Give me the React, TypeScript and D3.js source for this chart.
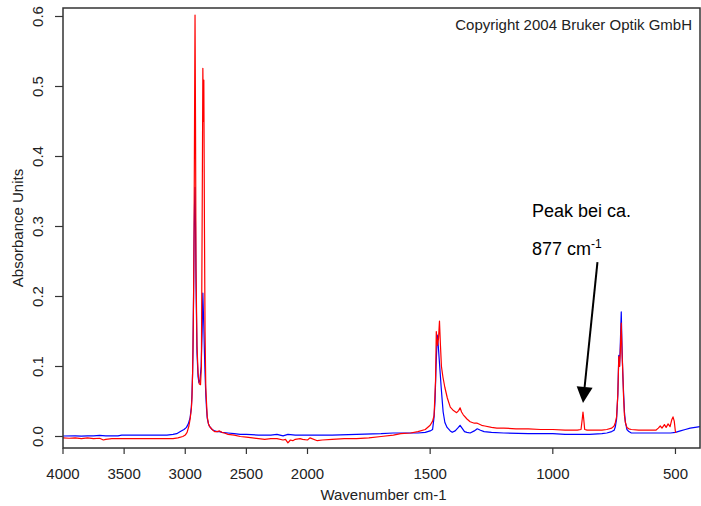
import * as d3 from 'd3';

// wavenumber (cm-1) / absorbance pairs
const blueWn = [
  4000, 3900, 3850, 3800, 3750, 3700, 3650, 3600, 3550, 3520, 3500, 3300, 3150, 3100, 3070, 3040,
  3010, 2990, 2975, 2960, 2950, 2945, 2940, 2937, 2932, 2928, 2924, 2920, 2916, 2912, 2904, 2895,
  2888, 2880, 2870, 2862, 2856, 2852, 2848, 2843, 2838, 2832, 2826, 2820, 2810, 2800, 2780, 2760,
  2740, 2720, 2700, 2650, 2600, 2550, 2500, 2400, 2300, 2250, 2200, 2160, 2100, 2000, 1900, 1800,
  1700, 1650, 1600, 1550, 1520, 1500, 1490, 1484, 1480, 1476, 1471, 1467, 1463, 1459, 1455, 1451,
  1447, 1440, 1431, 1418, 1410, 1398, 1385, 1378, 1370, 1360, 1350, 1337, 1320, 1308, 1295, 1280,
  1250, 1200, 1100, 1000, 950, 900, 880, 850, 800, 780, 760, 750, 745, 740, 735, 731,
  728, 725, 721, 718, 715, 712, 708, 704, 698, 690, 680, 650, 600, 550, 520, 500,
  480, 460, 440, 420, 400,
];
const blueAbs = [
  0.0007, 0.001, 0.0005, 0.001, 0.001, 0.0015, 0.001, 0.001, 0.001, 0.002, 0.002, 0.002, 0.002, 0.003, 0.004, 0.007,
  0.01, 0.013, 0.018, 0.027, 0.042, 0.06, 0.09, 0.12, 0.2, 0.28, 0.33, 0.356, 0.3, 0.22, 0.12, 0.085,
  0.077, 0.08, 0.1, 0.15, 0.205, 0.18, 0.157, 0.12, 0.09, 0.06, 0.04, 0.026, 0.018, 0.014, 0.01, 0.008,
  0.007, 0.007, 0.006, 0.005, 0.004, 0.003, 0.003, 0.002, 0.002, 0.003, 0.001, 0.003, 0.002, 0.002, 0.002, 0.003,
  0.004, 0.005, 0.005, 0.005, 0.006, 0.008, 0.01, 0.028, 0.052, 0.1, 0.145, 0.13, 0.11, 0.09, 0.07, 0.052,
  0.035, 0.02, 0.013, 0.008, 0.006, 0.008, 0.013, 0.016, 0.012, 0.007, 0.006, 0.005, 0.008, 0.011, 0.009, 0.007,
  0.006, 0.005, 0.004, 0.004, 0.003, 0.003, 0.003, 0.003, 0.004, 0.005, 0.007, 0.009, 0.014, 0.025, 0.06, 0.116,
  0.1, 0.13, 0.178, 0.13, 0.092, 0.066, 0.035, 0.02, 0.01, 0.007, 0.005, 0.005, 0.005, 0.005, 0.005, 0.006,
  0.008, 0.01, 0.012, 0.013, 0.014,
];

const redWn = [
  4000, 3950, 3900, 3850, 3800, 3750, 3700, 3670, 3650, 3600, 3500, 3400, 3300, 3200, 3100, 3060,
  3020, 3000, 2985, 2970, 2960, 2950, 2945, 2940, 2937, 2932, 2928, 2924, 2920, 2916, 2912, 2904,
  2895, 2885, 2875, 2868, 2862, 2856, 2852, 2848, 2843, 2838, 2832, 2826, 2820, 2810, 2800, 2780,
  2760, 2740, 2720, 2700, 2680, 2650, 2600, 2550, 2500, 2450, 2400, 2350, 2300, 2250, 2200, 2180,
  2160, 2140, 2120, 2100, 2060, 2040, 2000, 1990, 1960, 1940, 1900, 1850, 1800, 1750, 1700, 1650,
  1620, 1580, 1550, 1520, 1500, 1490, 1484, 1478, 1475, 1470, 1466, 1462, 1458, 1454, 1448, 1440,
  1430, 1418, 1405, 1392, 1384, 1378, 1372, 1365, 1350, 1337, 1320, 1308, 1290, 1277, 1250, 1228,
  1200, 1150, 1100, 1050, 1000, 950, 900, 885, 880, 877, 874, 870, 860, 840, 800, 780,
  760, 750, 745, 740, 735, 731, 728, 725, 721, 718, 715, 712, 708, 704, 698, 690,
  680, 650, 620, 600, 580, 570, 562, 555, 545, 538, 530, 522, 515, 510, 505, 500,
  497,
];
const redAbs = [
  -0.002, -0.0025, -0.002, -0.003, -0.002, -0.003, -0.0025, -0.005, -0.004, -0.003, -0.003, -0.003, -0.003, -0.003, -0.003, -0.002,
  0.0, 0.002, 0.006, 0.015, 0.025, 0.04, 0.055, 0.09, 0.124, 0.2, 0.29, 0.45, 0.602, 0.45, 0.24, 0.13,
  0.09, 0.075, 0.074, 0.1, 0.3, 0.526, 0.45, 0.509, 0.3, 0.15, 0.07, 0.048, 0.028, 0.018, 0.014, 0.01,
  0.007, 0.007, 0.008, 0.006, 0.005, 0.003, 0.002, 0.0, -0.001, -0.002, -0.003, -0.004, -0.003, -0.003, -0.005, -0.004,
  -0.009, -0.005, -0.006, -0.004, -0.003, -0.004, -0.005, -0.002, -0.006, -0.005, -0.004, -0.003, -0.003, -0.002, 0.0, 0.002,
  0.004, 0.005, 0.007, 0.01, 0.016, 0.022, 0.03, 0.08, 0.15, 0.13, 0.14, 0.165, 0.13, 0.1, 0.085, 0.07,
  0.055, 0.042, 0.037, 0.034, 0.037, 0.041, 0.035, 0.031, 0.025, 0.021, 0.019, 0.019, 0.016, 0.015, 0.013, 0.012,
  0.012, 0.011, 0.011, 0.01, 0.01, 0.009, 0.009, 0.01, 0.025, 0.035, 0.025, 0.01, 0.009, 0.009, 0.009, 0.01,
  0.012, 0.015, 0.02, 0.028, 0.06, 0.114, 0.1, 0.12, 0.162, 0.12, 0.095, 0.06, 0.03, 0.02, 0.013, 0.011,
  0.01, 0.009, 0.009, 0.009, 0.009, 0.012, 0.015, 0.012, 0.017, 0.013, 0.018, 0.014, 0.024, 0.028, 0.022, 0.006,
  0.006,
];

const xTicks = [4000, 3500, 3000, 2500, 2000, 1500, 1000, 500];
const yTicks = [0.0, 0.1, 0.2, 0.3, 0.4, 0.5, 0.6];

// arrow: from label area down to the 877 peak (wavenumber, absorbance)
const arrowFrom = [818, 0.249];
const arrowTo = [877, 0.048];

const W = 701;
const H = 506;
const left = 63;
const right = 700;
const top = 8;
const bottom = 448;
const font = '"Liberation Sans", Arial, sans-serif';

export default function App() {
  // OPUS style split axis: 4000-2000 compressed, 2000-400 doubled
  const x = d3.scaleLinear().domain([4000, 2000, 400]).range([left, 307.5, right]);
  const y = d3.scaleLinear().domain([-0.01643, 0.61214]).range([bottom, top]);

  const path = (wn: number[], ab: number[]) =>
    d3
      .line<number>()
      .x((d) => x(d))
      .y((_, i) => y(ab[i]))(wn);

  const ax = x(arrowFrom[0]);
  const ay = y(arrowFrom[1]);
  const tx = x(arrowTo[0]);
  const ty = y(arrowTo[1]);
  const ang = Math.atan2(ty - ay, tx - ax);
  const headLen = 16;
  const headW = 8;
  const bx = tx - headLen * Math.cos(ang);
  const by = ty - headLen * Math.sin(ang);
  const px = -Math.sin(ang) * headW;
  const py = Math.cos(ang) * headW;

  return (
    <svg
      width={W}
      height={H}
      style={{ position: 'absolute', left: 0, top: 0, background: 'white' }}
      fontFamily={font}
    >
      <defs>
        <clipPath id="plot">
          <rect x={left} y={top} width={right - left} height={bottom - top} />
        </clipPath>
      </defs>

      <g clipPath="url(#plot)" fill="none" strokeLinejoin="round">
        <path d={path(blueWn, blueAbs) ?? ''} stroke="#0000ff" strokeWidth={1.2} />
        <path d={path(redWn, redAbs) ?? ''} stroke="#ff0000" strokeWidth={1.2} />
      </g>

      <rect
        x={left}
        y={top}
        width={right - left}
        height={bottom - top}
        fill="none"
        stroke="#333"
        strokeWidth={1.5}
      />

      {xTicks.map((t) => (
        <g key={t}>
          <line x1={x(t)} x2={x(t)} y1={bottom} y2={bottom + 6} stroke="#333" strokeWidth={1.2} />
          <text x={x(t)} y={479} textAnchor="middle" fontSize={15} fill="#222">
            {t}
          </text>
        </g>
      ))}
      {yTicks.map((t) => (
        <g key={t}>
          <line x1={left - 8} x2={left} y1={y(t)} y2={y(t)} stroke="#333" strokeWidth={1.2} />
          <text
            transform={`translate(43,${y(t)}) rotate(-90)`}
            textAnchor="middle"
            fontSize={15}
            fill="#222"
          >
            {t.toFixed(1)}
          </text>
        </g>
      ))}

      <text x={(left + right) / 2 + 2} y={500} textAnchor="middle" fontSize={15} fill="#222">
        Wavenumber cm-1
      </text>
      <text
        transform={`translate(23,${(top + bottom) / 2}) rotate(-90)`}
        textAnchor="middle"
        fontSize={15}
        fill="#222"
      >
        Absorbance Units
      </text>

      <text x={692} y={30} textAnchor="end" fontSize={15} fill="#222">
        Copyright 2004 Bruker Optik GmbH
      </text>

      <text x={532} y={217} fontSize={18} fill="#000">
        Peak bei ca.
      </text>
      <text x={532} y={255} fontSize={18} fill="#000">
        877 cm<tspan dy={-7} fontSize={12}>-1</tspan>
      </text>

      <line x1={ax} y1={ay} x2={bx} y2={by} stroke="#000" strokeWidth={2} />
      <polygon
        points={`${tx},${ty} ${bx + px},${by + py} ${bx - px},${by - py}`}
        fill="#000"
      />
    </svg>
  );
}
